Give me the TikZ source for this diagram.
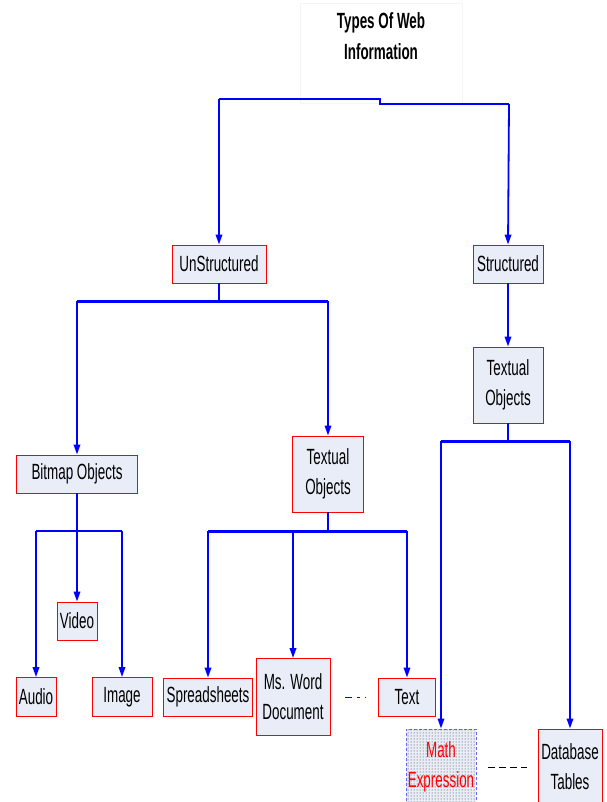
\documentclass[tikz,border=0pt]{standalone}
\usepackage{fontspec}
\setmainfont{Liberation Sans}[FakeStretch=0.61]
\usepackage{xcolor}
\usepackage{tikz}
\usetikzlibrary{arrows.meta,patterns}

\definecolor{boxFill}{RGB}{232, 237, 247}
\definecolor{webBlue}{RGB}{0, 0, 255}

\begin{document}
\begin{tikzpicture}[x = 1pt, y = -1pt,
  box/.style = {draw = red, fill = boxFill, line width = 0.9pt, inner sep = 0pt,
                align = center, font = \fontsize{22}{30}\selectfont},
  link/.style = {draw = webBlue, line width = 1.8pt},
  trunk/.style = {draw = webBlue, line width = 2.6pt},
  arr/.style = {link, -{Triangle[length = 10pt, width = 6.5pt]}}]
  \useasboundingbox (0, 0) rectangle (606, 802);

  \node[draw = gray!8, inner sep = 0pt, font = \fontsize{22}{31}\selectfont\bfseries]
    (title) at (381, 53) {\parbox[c][100pt][t]{162pt}{\centering\vspace{10pt}Types Of Web\\Information}};

  \node[box, minimum width = 94pt, minimum height = 38pt] (uns) at (219, 264) {UnStructured};
  \node[box, minimum width = 70pt, minimum height = 38pt] (str) at (508, 264) {Structured};
  \node[box, minimum width = 70pt, minimum height = 76pt] (txtR) at (508, 385) {Textual\\Objects};

  \node[box, minimum width = 121pt, minimum height = 38pt] (bmp) at (77, 474) {Bitmap Objects};
  \node[box, minimum width = 71pt, minimum height = 76pt] (txtM) at (328, 474) {Textual\\Objects};

  \node[box, minimum width = 40pt, minimum height = 38pt] (video) at (77, 621) {Video};
  \node[box, minimum width = 40pt, minimum height = 39pt] (audio) at (36, 697) {Audio};
  \node[box, minimum width = 60pt, minimum height = 39pt] (image) at (122, 697) {Image};

  \node[box, minimum width = 89pt, minimum height = 38pt] (sheet) at (208, 697) {Spreadsheets};
  \node[box, minimum width = 74pt, minimum height = 77pt] (word) at (293, 697) {Ms. Word\\Document};
  \node[box, minimum width = 57pt, minimum height = 38pt] (text) at (407, 697) {Text};

  \node[box, draw = blue!60, densely dashed, text = red, minimum width = 70pt, minimum height = 76pt,
        postaction = {pattern = dots, pattern color = black!80}] (math) at (441, 767) {Math\\Expression};
  \node[box, minimum width = 64pt, minimum height = 76pt] (db) at (570, 767) {Database\\Tables};

  % top split
  \coordinate (t1) at (219, 99);
  \coordinate (t2) at (380, 99);
  \coordinate (t3) at (380, 104);
  \coordinate (t4) at (509, 104);
  \draw[trunk] (t1) -- (t2) -- (t3) -- (t4);
  \draw[arr] (t1) -- (uns.north);
  \draw[arr] (t4) -- (str.north);

  % unstructured
  \draw[link] (uns.south) -- ++(0, 18) coordinate (u0);
  \draw[trunk] (bmp.north |- u0) -- (txtM.north |- u0);
  \draw[arr] (bmp.north |- u0) -- (bmp.north);
  \draw[arr] (txtM.north |- u0) -- (txtM.north);

  % structured
  \draw[arr] (str.south) -- (txtR.north);
  \draw[link] (txtR.south) -- ++(0, 18) coordinate (s0);
  \draw[trunk] (math.north |- s0) -- (db.north |- s0);
  \draw[arr] (math.north |- s0) -- (math.north);
  \draw[arr] (db.north |- s0) -- (db.north);

  % bitmap objects
  \coordinate (b0) at (77, 531);
  \draw[trunk] (audio.north |- b0) -- (image.north |- b0);
  \draw[arr] (bmp.south) -- (video.north);
  \draw[arr] (audio.north |- b0) -- (audio.north);
  \draw[arr] (image.north |- b0) -- (image.north);

  % textual objects
  \draw[link] (txtM.south) -- ++(0, 19) coordinate (m0);
  \draw[trunk] (sheet.north |- m0) -- (text.north |- m0);
  \draw[arr] (sheet.north |- m0) -- (sheet.north);
  \draw[arr] (word.north |- m0) -- (word.north);
  \draw[arr] (text.north |- m0) -- (text.north);

  % side links
  \draw[webBlue, line width = 1pt, dash pattern = on 7pt off 5pt on 3pt off 5pt,
        shorten < = 15pt, shorten > = 12pt] (word) -- (text);
  \draw[black, line width = 1pt, dash pattern = on 7pt off 4pt,
        shorten < = 12pt, shorten > = 11pt] (math) -- (db);
\end{tikzpicture}
\end{document}
